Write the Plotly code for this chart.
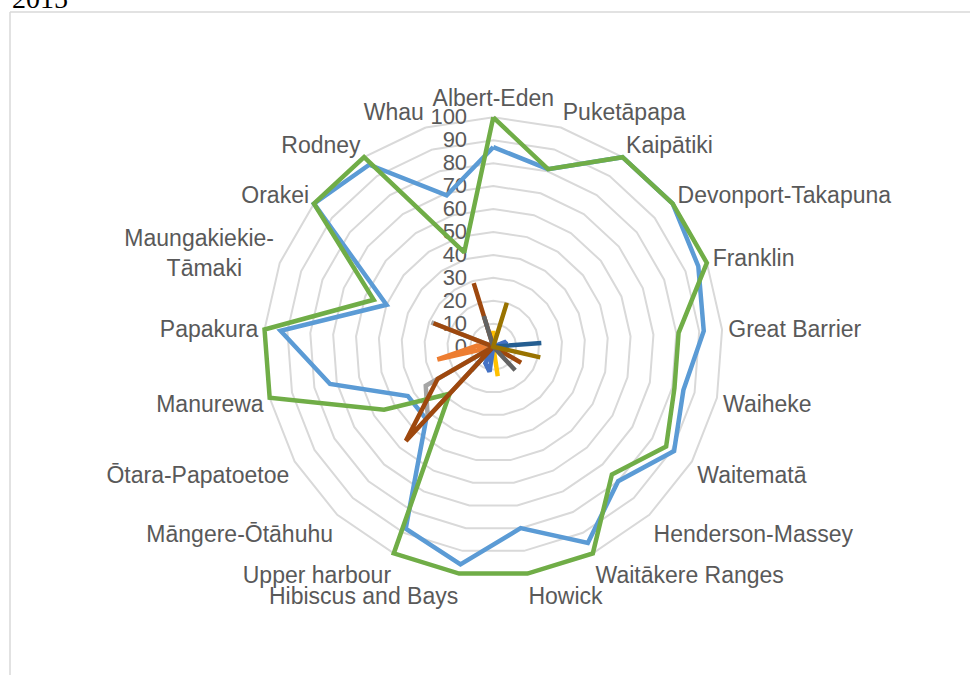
import plotly.graph_objects as go

categories = ["Albert-Eden", "Puketāpapa", "Kaipātiki", "Devonport-Takapuna", "Franklin",
              "Great Barrier", "Waiheke", "Waitematā", "Henderson-Massey", "Waitākere Ranges",
              "Howick", "Hibiscus and Bays", "Upper harbour", "Māngere-Ōtāhuhu", "Ōtara-Papatoetoe",
              "Manurewa", "Papakura", "Maungakiekie-Tāmaki", "Orakei", "Rodney", "Whau"]
category_labels = ["Albert-Eden", "Puketāpapa", "Kaipātiki", "Devonport-Takapuna", "Franklin",
                   "Great Barrier", "Waiheke", "Waitematā", "Henderson-Massey", "Waitākere Ranges",
                   "Howick", "Hibiscus and Bays", "Upper harbour", "Māngere-Ōtāhuhu", "Ōtara-Papatoetoe",
                   "Manurewa", "Papakura", "Maungakiekie-<br>Tāmaki" + "\u00a0" * 5, "Orakei", "Rodney", "Whau"]

radial_ticks = [0, 10, 20, 30, 40, 50, 60, 70, 80, 90, 100]

series_1 = [87, 81, 100, 100, 96, 92, 85, 91, 80, 95, 80, 96, 88, 43, 43, 73, 93, 50, 100, 96, 69]
series_2 = [0, 0, 0, 0, 0, 0, 0, 0, 0, 0, 0, 0, 0, 0, 0, 25, 7, 0, 0, 0, 0]
series_3 = [0, 0, 0, 0, 0, 0, 0, 0, 0, 0, 0, 0, 0, 42, 34, 0, 0, 29, 0, 0, 0]
series_4 = [7, 0, 0, 0, 0, 0, 0, 0, 0, 0, 13, 0, 0, 0, 0, 0, 0, 0, 0, 0, 0]
series_5 = [0, 0, 0, 0, 6, 5, 0, 0, 0, 0, 0, 11, 8, 0, 0, 0, 0, 0, 0, 0, 0]
series_6 = [100, 81, 100, 100, 100, 81, 81, 87, 76, 100, 100, 100, 100, 28, 55, 100, 100, 56, 100, 100, 43]
series_7 = [0, 0, 0, 0, 0, 21, 0, 0, 0, 0, 0, 0, 0, 14, 0, 0, 0, 0, 0, 0, 0]
series_8 = [0, 0, 0, 0, 0, 0, 0, 14, 0, 0, 0, 0, 0, 56, 28, 0, 0, 28, 0, 0, 29]
series_9 = [0, 0, 0, 0, 0, 0, 0, 0, 14, 0, 0, 0, 0, 0, 0, 0, 0, 0, 0, 0, 14]
series_10 = [0, 20, 0, 0, 0, 0, 21, 0, 0, 0, 0, 0, 0, 0, 0, 0, 0, 0, 0, 0, 0]

series = [
    ("Series 1", series_1, "#5B9BD5"),
    ("Series 2", series_2, "#ED7D31"),
    ("Series 3", series_3, "#A5A5A5"),
    ("Series 4", series_4, "#FFC000"),
    ("Series 5", series_5, "#4472C4"),
    ("Series 6", series_6, "#70AD47"),
    ("Series 7", series_7, "#255E91"),
    ("Series 8", series_8, "#9E480E"),
    ("Series 9", series_9, "#636363"),
    ("Series 10", series_10, "#997300"),
]

W, H = 970, 675
RMAX = 102.5                       # small headroom so 100-valued lines are not clipped
cx, cy = 493.3, 346.7
R = 229.4 * RMAX / 100

fig = go.Figure()
for name, vals, col in series:
    fig.add_trace(go.Scatterpolar(
        r=vals + vals[:1],
        theta=categories + categories[:1],
        mode="lines",
        name=name,
        line=dict(color=col, width=4.5),
        cliponaxis=False,
        showlegend=False,
        hoverinfo="skip",
    ))

FONT = "Liberation Sans, Arial, sans-serif"

fig.update_layout(
    width=W, height=H,
    margin=dict(l=0, r=0, t=0, b=0),
    paper_bgcolor="white",
    plot_bgcolor="white",
    showlegend=False,
    polar=dict(
        domain=dict(x=[(cx - R) / W, (cx + R) / W],
                    y=[(H - cy - R) / H, (H - cy + R) / H]),
        bgcolor="white",
        gridshape="linear",
        angularaxis=dict(
            type="category",
            categoryorder="array",
            categoryarray=categories,
            tickmode="array",
            tickvals=categories,
            ticktext=category_labels,
            rotation=90,
            direction="clockwise",
            showgrid=False,
            showline=False,
            layer="below traces",
            ticks="",
            tickfont=dict(family=FONT, size=23, color="#595959"),
        ),
        radialaxis=dict(
            range=[0, RMAX],
            tickmode="array",
            tickvals=radial_ticks,
            ticktext=[str(v) for v in radial_ticks],
            angle=90,
            side="counterclockwise",
            tickangle=90,
            showline=False,
            showgrid=True,
            gridcolor="#D9D9D9",
            gridwidth=1.5,
            layer="below traces",
            ticks="outside",
            ticklen=18,
            tickcolor="rgba(0,0,0,0)",
            tickfont=dict(family=FONT, size=22, color="#595959"),
        ),
    ),
    shapes=[
        dict(type="line", xref="paper", yref="paper",
             x0=10 / W, x1=1.0, y0=1 - 12 / H, y1=1 - 12 / H,
             line=dict(color="#D9D9D9", width=1.5)),
        dict(type="line", xref="paper", yref="paper",
             x0=10 / W, x1=10 / W, y0=0, y1=1 - 12 / H,
             line=dict(color="#D9D9D9", width=1.5)),
    ],
    annotations=[
        dict(text="2015", xref="paper", yref="paper", x=10 / W, y=1 - 16 / H,
             xanchor="left", yanchor="bottom", showarrow=False,
             font=dict(family="Liberation Serif, Times New Roman, serif", size=28, color="black")),
    ],
)

fig.write_html("out.html", config={"displayModeBar": False},
               post_script="document.body.style.margin='0';document.body.style.padding='0';")
